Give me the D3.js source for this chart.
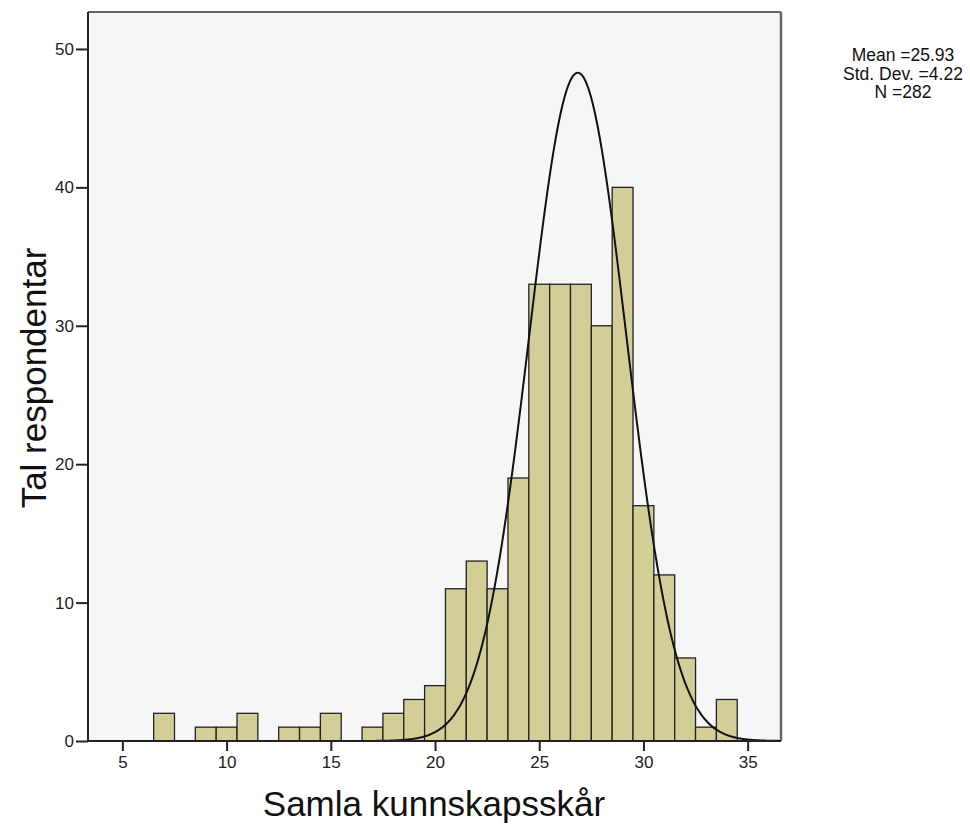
<!DOCTYPE html>
<html>
<head>
<meta charset="utf-8">
<script src="https://cdn.jsdelivr.net/npm/d3@7"></script>
<style>
body { margin: 0; background: #fff; }
svg { display: block; font-family: "Liberation Sans", Arial, sans-serif; }
</style>
</head>
<body>
<svg></svg>
<script>
// score bins (centred on whole numbers) and counts
var scores = [7, 9, 10, 11, 13, 14, 15, 17, 18, 19, 20, 21, 22, 23, 24, 25, 26, 27, 28, 29, 30, 31, 32, 33, 34];
var counts = [2, 1, 1, 2, 1, 1, 2, 1, 2, 3, 4, 11, 13, 11, 19, 33, 33, 33, 30, 40, 17, 12, 6, 1, 3];
var xTicks = [5, 10, 15, 20, 25, 30, 35];
var yTicks = [0, 10, 20, 30, 40, 50];
var statLines = ["Mean =25.93", "Std. Dev. =4.22", "N =282"];
// normal curve as drawn on the chart
var curveMean = 26.85, curveSd = 2.33, curveN = 282;

var screen = {width: 970, height: 827};
var plot = {left: 88, top: 12, right: 781, bottom: 741};

var svg = d3.select("svg")
    .attr("width", screen.width)
    .attr("height", screen.height);

var xScale = d3.scaleLinear()
    .domain([3.35, 36.6])
    .range([plot.left, plot.right]);

var yScale = d3.scaleLinear()
    .domain([0, 52.67])
    .range([plot.bottom, plot.top]);

// plot background
svg.append("rect")
    .attr("x", plot.left)
    .attr("y", plot.top)
    .attr("width", plot.right - plot.left)
    .attr("height", plot.bottom - plot.top)
    .attr("fill", "#f6f6f6");

// bars
svg.append("g")
    .selectAll("rect")
    .data(scores)
    .enter()
    .append("rect")
    .attr("x", function(d){return xScale(d - 0.5);})
    .attr("y", function(d, i){return yScale(counts[i]);})
    .attr("width", function(d){return xScale(d + 0.5) - xScale(d - 0.5);})
    .attr("height", function(d, i){return yScale(0) - yScale(counts[i]);})
    .attr("fill", "#d3ce97")
    .attr("stroke", "#222")
    .attr("stroke-width", 1.3);

// normal curve
var curvePts = d3.range(3.35, 36.61, 0.05);
var lineGenerator = d3.line()
    .x(function(d){return xScale(d);})
    .y(function(d)
    {
        var z = (d - curveMean) / curveSd;
        return yScale(curveN / (curveSd * Math.sqrt(2 * Math.PI)) * Math.exp(-0.5 * z * z));
    })
    .curve(d3.curveBasis);

svg.append("path")
    .datum(curvePts)
    .attr("d", lineGenerator)
    .attr("fill", "none")
    .attr("stroke", "#111")
    .attr("stroke-width", 2);

// frame
svg.append("line")
    .attr("x1", plot.left).attr("x2", plot.right)
    .attr("y1", plot.top).attr("y2", plot.top)
    .attr("stroke", "#333").attr("stroke-width", 1.5);
svg.append("line")
    .attr("x1", plot.right).attr("x2", plot.right)
    .attr("y1", plot.top).attr("y2", plot.bottom)
    .attr("stroke", "#666").attr("stroke-width", 2.5);

// axes
var xAxis = d3.axisBottom(xScale)
    .tickValues(xTicks)
    .tickSize(10)
    .tickSizeOuter(0)
    .tickPadding(5);
var yAxis = d3.axisLeft(yScale)
    .tickValues(yTicks)
    .tickSize(12)
    .tickSizeOuter(0)
    .tickPadding(2);

var gx = svg.append("g")
    .attr("transform", "translate(0," + plot.bottom + ")")
    .call(xAxis);
gx.select(".domain")
    .attr("d", "M" + (plot.left - 1) + ",0H" + plot.right);

var gy = svg.append("g")
    .attr("transform", "translate(" + plot.left + ",0)")
    .call(yAxis);
gy.select(".domain")
    .attr("d", "M0," + plot.top + "V" + plot.bottom);

svg.selectAll(".domain")
    .attr("stroke", "#222")
    .attr("stroke-width", 2);
svg.selectAll(".tick line")
    .attr("stroke", "#222")
    .attr("stroke-width", 2);
svg.selectAll(".tick text")
    .attr("font-family", "'Liberation Sans', Arial, sans-serif")
    .attr("font-size", 17)
    .attr("fill", "#222");

// axis titles
svg.append("text")
    .attr("x", 434)
    .attr("y", 816)
    .attr("text-anchor", "middle")
    .attr("font-size", 35)
    .attr("fill", "#111")
    .text("Samla kunnskapsskår");

svg.append("text")
    .attr("transform", "translate(46,378) rotate(-90)")
    .attr("text-anchor", "middle")
    .attr("font-size", 35)
    .attr("fill", "#111")
    .text("Tal respondentar");

// stats box
svg.append("g")
    .selectAll("text")
    .data(statLines)
    .enter()
    .append("text")
    .attr("x", 903)
    .attr("y", function(d, i){return 61 + i * 18.5;})
    .attr("text-anchor", "middle")
    .attr("font-size", 17.5)
    .attr("fill", "#111")
    .text(function(d){return d;});
</script>
</body>
</html>
